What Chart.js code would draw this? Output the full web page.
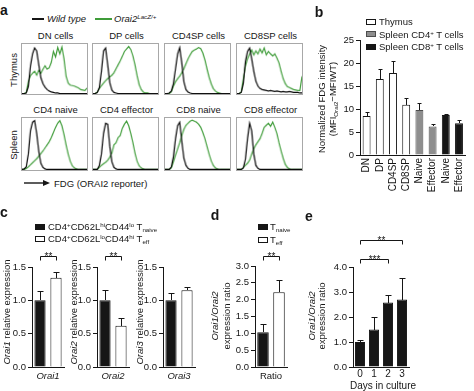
<!DOCTYPE html>
<html>
<head>
<meta charset="utf-8">
<title>ORAI2 reporter and Orai expression</title>
<script src="https://cdn.jsdelivr.net/npm/chart.js@4.4.1/dist/chart.umd.min.js"></script>
<style>
  html, body { margin: 0; padding: 0; background: #fff; }
  #fig { position: relative; width: 474px; height: 391px; overflow: hidden;
         font-family: "Liberation Sans", Arial, Helvetica, sans-serif; color: #161616; }
  #fig canvas { position: absolute; }
  .hist { border: 1px solid #a8a8a8; }
  .txt { position: absolute; white-space: nowrap; line-height: 1; }
  .swatch { position: absolute; box-sizing: border-box; border: 1px solid #161616; }
  sup { font-size: 0.65em; vertical-align: 0.5em; line-height: 0; }
  sub { font-size: 0.65em; vertical-align: -0.3em; line-height: 0; }
</style>
</head>
<body>
<div id="fig"></div>
<script>
// ---- a: FDG histograms, % of mode per bin (wild type vs Orai2 LacZ/+)
const histTitles = ['DN cells', 'DP cells', 'CD4SP cells', 'CD8SP cells',
                    'CD4 naive', 'CD4 effector', 'CD8 naive', 'CD8 effector'];

const dnWt = [0,0,1,14,55,80,92,86,58,32, 20,13,8,5,3,2,1,1,0,0, 0,0,0,0,0,0,0,0,0,0, 0,0];
const dnOrai2 = [0,0,2,24,36,41,45,37,47,41, 49,56,49,52,63,85,74,93,80,94, 70,35,21,17,16,15,13,11,8,7, 6,11];
const dpWt = [0,0,2,12,45,86,92,58,22,7, 2,1,0,0,0,0,0,0,0,0, 0,0,0,0,0,0,0,0,0,0, 0,0];
const dpOrai2 = [0,0,3,10,16,21,26,30,34,37, 42,50,58,66,75,85,90,95,89,76, 58,36,18,8,3,1,1,0,0,0, 0,0];
const cd4spWt = [0,0,1,5,20,50,80,93,62,24, 8,3,1,0,0,0,0,0,0,0, 0,0,0,0,0,0,0,0,0,0, 0,0];
const cd4spOrai2 = [0,0,0,3,15,24,30,35,42,50, 60,70,78,85,88,90,93,91,82,68, 50,33,20,10,5,2,1,0,0,0, 0,0];
const cd8spWt = [0,0,2,20,65,85,92,70,45,25, 15,10,8,7,6,5,6,5,4,5, 4,3,4,3,3,4,3,2,2,2, 1,1];
const cd8spOrai2 = [0,0,3,30,55,70,80,88,78,86, 80,90,82,92,78,85,80,76,80,72, 62,45,30,20,14,12,10,8,7,6, 6,35];
const cd4NaiveWt = [0,1,5,30,75,92,95,70,35,12, 4,1,0,0,0,0,0,0,0,0, 0,0,0,0,0,0,0,0,0,0, 0,0];
const cd4NaiveOrai2 = [0,0,2,5,9,13,17,21,26,31, 36,42,48,54,62,72,82,90,95,85, 68,48,30,16,7,3,1,0,0,0, 0,0];
const cd4EffWt = [0,0,0,8,30,70,90,88,45,15, 4,1,0,0,0,0,0,0,0,0, 0,0,0,0,0,0,0,0,0,0, 0,0];
const cd4EffOrai2 = [0,0,0,4,8,11,14,18,24,32, 48,52,62,66,80,88,94,85,70,52, 32,16,7,3,1,0,0,0,0,0, 0,0];
const cd8NaiveWt = [0,0,0,5,25,60,85,92,55,22, 8,2,0,0,0,0,0,0,0,0, 0,0,0,0,0,0,0,0,0,0, 0,0];
const cd8NaiveOrai2 = [0,0,0,3,15,28,40,52,66,78, 86,90,94,96,94,92,88,82,72,60, 45,30,17,8,3,1,0,0,0,0, 0,0];
const cd8EffWt = [0,0,0,3,20,60,90,75,30,8, 2,0,0,0,0,0,0,0,0,0, 0,0,0,0,0,0,0,0,0,0, 0,0];
const cd8EffOrai2 = [0,0,0,4,8,12,18,30,40,48, 54,60,70,82,86,90,84,92,82,70, 52,36,22,10,4,1,0,0,0,0, 0,0];

const histWt = [dnWt, dpWt, cd4spWt, cd8spWt, cd4NaiveWt, cd4EffWt, cd8NaiveWt, cd8EffWt];
const histOrai2 = [dnOrai2, dpOrai2, cd4spOrai2, cd8spOrai2, cd4NaiveOrai2, cd4EffOrai2, cd8NaiveOrai2, cd8EffOrai2];

// ---- b: normalized FDG intensity
const fdgCats = ['DN', 'DP', 'CD4SP', 'CD8SP', 'Naive', 'Effector', 'Naive', 'Effector'];
const fdgGroup = ['thymus', 'thymus', 'thymus', 'thymus', 'cd4', 'cd4', 'cd8', 'cd8'];
const fdgMean = [8.5, 16.5, 17.8, 10.9, 9.8, 6.2, 8.7, 6.9];
const fdgUpper = [9.3, 18.6, 20.5, 12.3, 11.3, 6.7, 8.9, 7.6];

// ---- c: relative Orai expression, naive vs effector
const genes = ['Orai1', 'Orai2', 'Orai3'];
const naiveExpr = [1.0, 1.0, 1.0];
const naiveUpper = [1.14, 1.15, 1.11];
const effExpr = [1.34, 0.62, 1.15];
const effUpper = [1.43, 0.74, 1.2];
const geneSig = ['**', '**', ''];
const geneSigAt = 1.66;

// ---- d: Orai1/Orai2 ratio
const ratioNaive = 1.03, ratioNaiveUpper = 1.28;
const ratioEff = 2.22, ratioEffUpper = 2.58;
const ratioSigAt = 3.3;

// ---- e: ratio over days in culture
const days = ['0', '1', '2', '3'];
const dayRatio = [1.0, 1.5, 2.58, 2.7];
const dayUpper = [1.1, 2.0, 2.88, 3.55];
const daySig = [{to: 2, stars: '***', at: 4.34}, {to: 3, stars: '**', at: 5.07}];

const INK = '#161616';
const GREEN = '#3f9c39';
const GREY = '#8e8e8e';
const FONT = '"Liberation Sans", Arial, Helvetica, sans-serif';

Chart.defaults.font.family = FONT;
Chart.defaults.font.size = 9.5;
Chart.defaults.color = INK;
Chart.defaults.animation = false;
Chart.defaults.plugins.legend.display = false;
Chart.defaults.plugins.tooltip.enabled = false;

const fig = document.getElementById('fig');

function canvasAt(x, y, w, h, cls) {
  const c = document.createElement('canvas');
  c.width = w;
  c.height = h;
  c.style.left = x + 'px';
  c.style.top = y + 'px';
  if (cls) c.className = cls;
  fig.appendChild(c);
  return c;
}

function text(html, x, y, o = {}) {
  const el = document.createElement('div');
  el.className = 'txt';
  el.innerHTML = html;
  el.style.left = x + 'px';
  el.style.top = y + 'px';
  el.style.fontSize = (o.size || 9.5) + 'px';
  if (o.bold) el.style.fontWeight = 'bold';
  if (o.italic) el.style.fontStyle = 'italic';
  const dx = o.anchor === 'start' ? '0' : '-50%';
  el.style.transform = `translate(${dx}, -50%)` + (o.rotate ? ` rotate(${o.rotate}deg)` : '');
  fig.appendChild(el);
}

function swatch(x, y, w, h, fill, edge) {
  const el = document.createElement('div');
  el.className = 'swatch';
  Object.assign(el.style, {left: x + 'px', top: y + 'px', width: w + 'px', height: h + 'px', background: fill});
  if (edge) el.style.borderColor = edge;
  fig.appendChild(el);
}

// whiskers: mean -> upper value, with a cap
const errorBars = {
  id: 'errorBars',
  afterDatasetsDraw(chart) {
    const {ctx} = chart;
    const y = chart.scales.y;
    ctx.save();
    ctx.strokeStyle = INK;
    ctx.lineWidth = 1;
    chart.data.datasets.forEach((ds, di) => {
      if (!ds.upper) return;
      chart.getDatasetMeta(di).data.forEach((bar, i) => {
        const x = Math.round(bar.x) + 0.5;
        const top = Math.round(y.getPixelForValue(ds.upper[i])) + 0.5;
        const cap = Math.round(bar.width * 0.3);
        ctx.beginPath();
        ctx.moveTo(x, Math.round(bar.y));
        ctx.lineTo(x, top);
        ctx.moveTo(x - cap, top);
        ctx.lineTo(x + cap, top);
        ctx.stroke();
      });
    });
    ctx.restore();
  }
};

function sigBrackets(items) {
  return {
    id: 'sigBrackets',
    afterDatasetsDraw(chart) {
      const {ctx} = chart;
      const y = chart.scales.y;
      ctx.save();
      ctx.strokeStyle = INK;
      ctx.fillStyle = INK;
      ctx.lineWidth = 1;
      ctx.font = '10px ' + FONT;
      ctx.textAlign = 'center';
      ctx.textBaseline = 'alphabetic';
      items.forEach(b => {
        const a = chart.getDatasetMeta(b.from[0]).data[b.from[1]];
        const e = chart.getDatasetMeta(b.to[0]).data[b.to[1]];
        const x1 = Math.round(a.x) + 0.5, x2 = Math.round(e.x) + 0.5;
        const yy = Math.round(y.getPixelForValue(b.at)) + 0.5;
        ctx.beginPath();
        ctx.moveTo(x1, yy + 4);
        ctx.lineTo(x1, yy);
        ctx.lineTo(x2, yy);
        ctx.lineTo(x2, yy + 4);
        ctx.stroke();
        ctx.fillText(b.stars, (x1 + x2) / 2, yy + 3);
      });
      ctx.restore();
    }
  };
}

function histogram(x, y, w, h, wt, orai2) {
  const c = canvasAt(x, y, w - 2, h - 2, 'hist');
  new Chart(c, {
    type: 'line',
    data: {
      labels: wt.map((_, i) => i),
      datasets: [
        {data: wt, borderColor: '#000', borderWidth: 1.2, pointRadius: 0, tension: 0},
        {data: orai2, borderColor: GREEN, borderWidth: 1.2, pointRadius: 0, tension: 0}
      ]
    },
    options: {
      responsive: false,
      devicePixelRatio: 1,
      layout: {padding: 0},
      scales: {x: {display: false}, y: {display: false, min: -1, max: 100}}
    }
  });
}

function barChart({rect, area, labels, datasets, y, xTicks = {}, brackets = []}) {
  const c = canvasAt(rect.x, rect.y, rect.w, rect.h);
  return new Chart(c, {
    type: 'bar',
    data: {labels, datasets},
    options: {
      responsive: false,
      devicePixelRatio: 1,
      layout: {padding: {left: 0, bottom: 0, top: area.top - rect.y, right: rect.x + rect.w - area.right}},
      scales: {
        x: {
          grid: {display: false, drawTicks: false},
          border: {display: true, color: INK, width: 1},
          ticks: Object.assign({padding: 4, autoSkip: false, maxRotation: 0, minRotation: 0}, xTicks),
          afterFit: s => { s.height = rect.y + rect.h - area.bottom; }
        },
        y: {
          min: y.min,
          max: y.max,
          grid: {drawOnChartArea: false, tickLength: 4, color: INK},
          border: {display: true, color: INK, width: 1},
          ticks: {stepSize: y.step, padding: 2, font: {size: y.size || 9.5}, callback: y.fmt},
          afterFit: s => { s.width = area.left - rect.x; }
        }
      }
    },
    plugins: [errorBars, sigBrackets(brackets)]
  });
}

// ---------- panel a
const boxX = [21, 92, 164, 236];
histTitles.forEach((t, i) => {
  const row = Math.floor(i / 4);
  const x = boxX[i % 4];
  const y = row ? 117 : 43;
  const h = row ? 56 : 54;
  histogram(x, y, 69, h, histWt[i], histOrai2[i]);
  text(t, x + 34.5, row ? 110 : 36);
});
text('Thymus', 14, 70, {rotate: -90});
text('Spleen', 14, 145, {rotate: -90});

swatch(32, 18, 12, 2, INK, INK);
text('Wild type', 47, 19, {italic: true, anchor: 'start'});
swatch(95, 18, 17, 2, GREEN, GREEN);
text('Orai2<sup>LacZ/+</sup>', 114, 19, {italic: true, anchor: 'start'});

fig.insertAdjacentHTML('beforeend',
  '<svg class="txt" style="left:23px;top:179px" width="30" height="8">' +
  '<line x1="1" y1="4" x2="22" y2="4" stroke="#161616" stroke-width="1.4"/>' +
  '<path d="M20 1 L27 4 L20 7 Z" fill="#161616"/></svg>');
text('FDG (ORAI2 reporter)', 54, 183.5, {anchor: 'start'});

// ---------- panel b
const groupFill = {thymus: '#ffffff', cd4: GREY, cd8: INK};
const groupEdge = {thymus: INK, cd4: '#4d4d4d', cd8: INK};
barChart({
  rect: {x: 326, y: 30, w: 148, h: 170},
  area: {left: 360, right: 474, top: 40, bottom: 155},
  labels: fdgCats,
  datasets: [{
    data: fdgMean,
    upper: fdgUpper,
    backgroundColor: fdgGroup.map(g => groupFill[g]),
    borderColor: fdgGroup.map(g => groupEdge[g]),
    borderWidth: 1,
    barPercentage: 0.6,
    categoryPercentage: 1
  }],
  y: {min: 0, max: 25, step: 5, fmt: v => v},
  xTicks: {minRotation: 90, maxRotation: 90, padding: 3, font: {size: 10}}
});
text('Normalized FDG intensity', 322, 99, {rotate: -90});
text('(MFI<sub>Orai2</sub>−MFIWT)', 333, 99, {rotate: -90});
swatch(366, 19, 10, 6, '#fff');
text('Thymus', 379, 22, {anchor: 'start'});
swatch(366, 31, 10, 6, GREY, '#4d4d4d');
text('Spleen CD4<sup>+</sup> T cells', 379, 34.5, {anchor: 'start'});
swatch(366, 44, 10, 6, INK);
text('Spleen CD8<sup>+</sup> T cells', 379, 47, {anchor: 'start'});

// ---------- panel c
const geneAxisX = [32, 97, 163];
const geneTitleX = [7, 74, 140];
genes.forEach((g, i) => {
  const ax = geneAxisX[i];
  barChart({
    rect: {x: ax - 24, y: 240, w: 62, h: 151},
    area: {left: ax, right: ax + 32, top: 267, bottom: 367},
    labels: [g],
    datasets: [
      {data: [naiveExpr[i]], upper: [naiveUpper[i]], backgroundColor: INK, borderColor: INK,
       borderWidth: 1, barPercentage: 0.7, categoryPercentage: 1},
      {data: [effExpr[i]], upper: [effUpper[i]], backgroundColor: '#fff', borderColor: INK,
       borderWidth: 1, barPercentage: 0.7, categoryPercentage: 1}
    ],
    y: {min: 0, max: 1.5, step: 0.5, fmt: v => v.toFixed(1)},
    xTicks: {padding: 4, font: {style: 'italic'}},
    brackets: geneSig[i] ? [{from: [0, 0], to: [1, 0], at: geneSigAt, stars: geneSig[i]}] : []
  });
  text(`<i>${g}</i> relative expression`, geneTitleX[i], 312, {rotate: -90});
});
swatch(35, 224, 10, 6, INK);
text('CD4<sup>+</sup>CD62L<sup>hi</sup>CD44<sup>lo</sup> T<sub>naive</sub>', 48, 227, {anchor: 'start'});
swatch(35, 236, 10, 6, '#fff');
text('CD4<sup>+</sup>CD62L<sup>lo</sup>CD44<sup>hi</sup> T<sub>eff</sub>', 48, 239, {anchor: 'start'});

// ---------- panel d
barChart({
  rect: {x: 232, y: 240, w: 60, h: 151},
  area: {left: 255, right: 287, top: 266, bottom: 367},
  labels: ['Ratio'],
  datasets: [
    {data: [ratioNaive], upper: [ratioNaiveUpper], backgroundColor: INK, borderColor: INK,
     borderWidth: 1, barPercentage: 0.72, categoryPercentage: 1},
    {data: [ratioEff], upper: [ratioEffUpper], backgroundColor: '#fff', borderColor: INK,
     borderWidth: 1, barPercentage: 0.72, categoryPercentage: 1}
  ],
  y: {min: 0, max: 3, step: 0.5, fmt: v => v.toFixed(1)},
  xTicks: {padding: 4},
  brackets: [{from: [0, 0], to: [1, 0], at: ratioSigAt, stars: '**'}]
});
text('<i>Orai1/Orai2</i>', 215, 316, {rotate: -90});
text('expression ratio', 227, 316, {rotate: -90});
swatch(258, 224, 10, 6, INK);
text('T<sub>naive</sub>', 270, 227, {anchor: 'start'});
swatch(258, 237, 10, 6, '#fff');
text('T<sub>eff</sub>', 270, 240, {anchor: 'start'});

// ---------- panel e
barChart({
  rect: {x: 326, y: 226, w: 90, h: 165},
  area: {left: 353, right: 409, top: 267, bottom: 367},
  labels: days,
  datasets: [{data: dayRatio, upper: dayUpper, backgroundColor: INK, borderColor: INK,
               borderWidth: 1, barPercentage: 0.72, categoryPercentage: 1}],
  y: {min: 0, max: 4, step: 1, fmt: v => v.toFixed(1)},
  xTicks: {padding: 1, font: {size: 10}},
  brackets: daySig.map(s => ({from: [0, 0], to: [0, s.to], at: s.at, stars: s.stars}))
});
text('<i>Orai1/Orai2</i>', 312, 316, {rotate: -90});
text('expression ratio', 322, 316, {rotate: -90});
text('Days in culture', 383, 386, {size: 10});

// ---------- panel letters
text('a', 4, 10, {bold: true, size: 14});
text('b', 319, 12, {bold: true, size: 14});
text('c', 4, 212, {bold: true, size: 14});
text('d', 215, 215, {bold: true, size: 14});
text('e', 309, 216, {bold: true, size: 14});
</script>
</body>
</html>
